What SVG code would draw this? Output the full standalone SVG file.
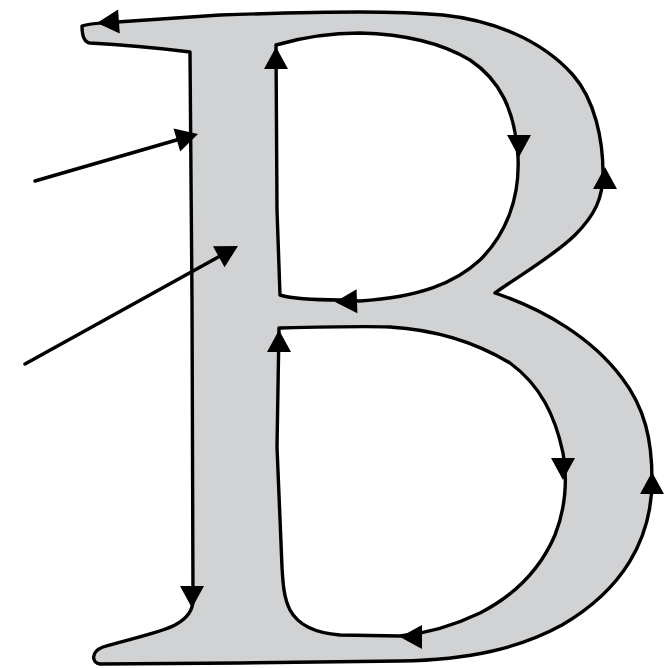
<svg xmlns="http://www.w3.org/2000/svg" width="670" height="668" viewBox="0 0 670 668">
<style>
.glyph{fill:#d1d2d4;stroke:#000;stroke-width:3.4;stroke-linejoin:round;fill-rule:evenodd}
.ptr{stroke:#000;stroke-width:3.5;fill:none;stroke-linecap:round}
.ah{fill:#000}
</style>
<defs>
<path id="ah" d="M0,0 L-22,-12 L-22,12 Z"/>
</defs>
<rect width="670" height="668" fill="#fff"/>
<g id="letter">
<path class="glyph" d="M82,26 C90,23 105,23 117,22 L220,15 C280,13 320,12 360,12 C400,12 420,13 443,15 C490,20 540,38 573,75 C595,100 603,140 603,173 C603,198 595,215 575,235 C555,255 520,275 495,293 C545,310 592,338 622,378 C645,408 652,440 652,480 C652,540 622,590 562,625 C520,648 470,660 400,661 L240,663 L100,664 C92,663 90,652 103,647 C125,640 160,633 175,625 C188,618 193,610 193,600 L192,300 L190,52 C150,47 110,44 90,43 C82,42 82,30 82,26 Z
M276,45 C300,38 330,33 360,33 C400,34 440,42 470,60 C500,80 515,110 518,157 C520,200 505,235 480,260 C455,283 420,297 360,301 L340,300 C310,300 290,298 280,295 L277,210 Z
M279,328 C320,327 360,326 390,327 C440,330 480,345 510,363 C540,385 555,415 563,453 C568,480 565,510 555,535 C540,570 515,595 480,613 C455,625 430,633 400,636 L340,635 C315,633 298,625 290,610 C284,598 283,585 282,567 L277,447 Z"/>
</g>
<g id="direction-arrows" class="ah">
<use href="#ah" transform="translate(97,23) rotate(176)"/>
<use href="#ah" transform="translate(192,608) rotate(90)"/>
<use href="#ah" transform="translate(605,167) rotate(-90)"/>
<use href="#ah" transform="translate(652,472) rotate(-90)"/>
<use href="#ah" transform="translate(519,157) rotate(90)"/>
<use href="#ah" transform="translate(335,302) rotate(178)"/>
<use href="#ah" transform="translate(276,47) rotate(-90)"/>
<use href="#ah" transform="translate(279,330) rotate(-90)"/>
<use href="#ah" transform="translate(563,480) rotate(90)"/>
<use href="#ah" transform="translate(400,637) rotate(180)"/>
</g>
<g id="pointers">
<line class="ptr" x1="35" y1="181" x2="180" y2="139"/>
<use class="ah" href="#ah" transform="translate(198,134) rotate(-16)"/>
<line class="ptr" x1="25" y1="364" x2="222" y2="255"/>
<use class="ah" href="#ah" transform="translate(238,246) rotate(-29)"/>
</g>
</svg>
